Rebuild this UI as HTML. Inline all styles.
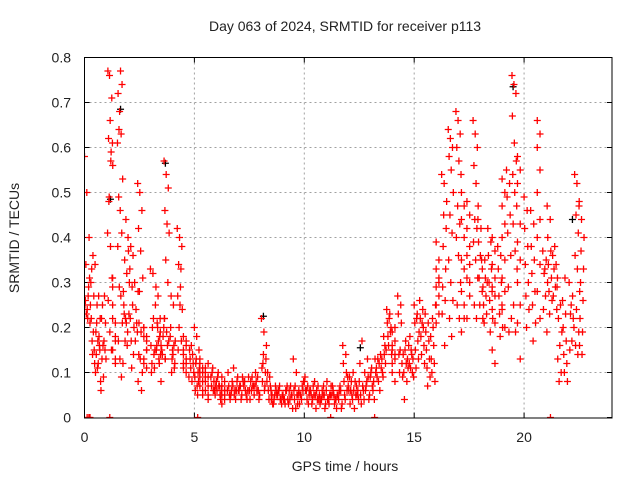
<!DOCTYPE html>
<html><head><meta charset="utf-8"><style>
html,body{margin:0;padding:0;background:#fff;}
svg{display:block;font-family:"Liberation Sans",sans-serif;}
</style></head><body>
<svg id="chart" width="640" height="480" viewBox="0 0 640 480">
<rect width="640" height="480" fill="#fff"/>
<text x="345" y="31" font-size="14" text-anchor="middle" fill="#222">Day 063 of 2024, SRMTID for receiver p113</text>
<text transform="translate(19,238) rotate(-90)" font-size="14" text-anchor="middle" fill="#222">SRMTID / TECUs</text>
<text x="345" y="471" font-size="14" text-anchor="middle" fill="#222">GPS time / hours</text>
<g id="grid"></g>
<g id="ticks"></g>
<defs><clipPath id="clip"><rect x="84.5" y="57" width="527.5" height="361"/></clipPath></defs>
<g id="marks" clip-path="url(#clip)"></g>
<rect x="84.5" y="57.5" width="527.5" height="360.5" fill="none" stroke="#000" stroke-width="1"/>
</svg>
<script>
const xTicks=[0,5,10,15,20];
const yTicks=[0,0.1,0.2,0.3,0.4,0.5,0.6,0.7,0.8];
const yTickLabels=["0","0.1","0.2","0.3","0.4","0.5","0.6","0.7","0.8"];
const segStart=[0,0.25,0.5,0.75,1.05,1.28,1.5,1.75,2.0,2.25,2.42,2.7,3.0,3.25,3.45,3.62,3.9,4.22,4.5,4.75,5.0,5.25,5.5,5.75,6.0,6.25,6.5,6.75,7.0,7.25,7.5,7.75,8.05,8.3,8.5,8.75,9.0,9.25,9.5,9.75,10.0,10.25,10.5,10.75,11.0,11.25,11.5,11.75,12.0,12.25,12.5,12.75,13.0,13.25,13.5,13.75,14.0,14.25,14.5,14.75,15.0,15.25,15.5,15.75,16.0,16.55,16.25,16.9,17.15,17.4,17.68,17.9,18.1,18.35,18.55,18.8,19.45,19.2,19.7,19.0,20.0,20.6,20.3,20.85,21.05,21.3,21.5,21.75,22.3,22.05,22.5];
const segValues=[
[0.58,0.50,0.40,0.34,0.27,0.25,0.24,0.31,0.23,0.29,0.26,0.22],
[0.21,0.17,0.15,0.30,0.36,0.34,0.33,0.27,0.25,0.14,0.12,0.22,0.19],
[0.10,0.11,0.16,0.19,0.17,0.15,0.14,0.12,0.22,0.21,0.27,0.08,0.25,0.18],
[0.06,0.09,0.13,0.16,0.21,0.25,0.15,0.13,0.27,0.22,0.17],
[0.41,0.49,0.57,0.61,0.62,0.66,0.71,0.77,0.76,0.59,0.56,0.48,0.38,0.31,0.26,0.19,0.15],
[0.31,0.17,0.25,0.18,0.22,0.13,0.15,0.21,0.29,0.12],
[0.61,0.64,0.77,0.74,0.72,0.68,0.63,0.53,0.49,0.46,0.41,0.38,0.29,0.27,0.21,0.17,0.13,0.09],
[0.12,0.17,0.16,0.25,0.44,0.40,0.35,0.32,0.28,0.22,0.19,0.23,0.21],
[0.37,0.38,0.36,0.33,0.29,0.23,0.17,0.14,0.22,0.25,0.30,0.11],
[0.20,0.19,0.17,0.14,0.21,0.30,0.28,0.24],
[0.52,0.50,0.46,0.42,0.37,0.31,0.28,0.06,0.08,0.13,0.10,0.21,0.19],
[0.18,0.15,0.20,0.17,0.13,0.15,0.12,0.18,0.20,0.11],
[0.33,0.32,0.25,0.20,0.15,0.12,0.11,0.10,0.14,0.16,0.22],
[0.29,0.27,0.22,0.16,0.13,0.08,0.20,0.18,0.15,0.17,0.14,0.21,0.12],
[0.19,0.20,0.15,0.13,0.18,0.16,0.22,0.14],
[0.57,0.54,0.51,0.46,0.43,0.41,0.35,0.30,0.22,0.19,0.17,0.13,0.16],
[0.18,0.15,0.12,0.10,0.16,0.20,0.14,0.17,0.13,0.11,0.27,0.25],
[0.42,0.40,0.38,0.34,0.33,0.27,0.25,0.24,0.20,0.17,0.15,0.29],
[0.18,0.16,0.14,0.12,0.11,0.13,0.12,0.10,0.15,0.17],
[0.09,0.08,0.15,0.14,0.13,0.12,0.11,0.10,0.16],
[0.20,0.18,0.15,0.12,0.10,0.09,0.07,0.11,0.13,0.08,0.06,0.05],
[0.12,0.10,0.09,0.08,0.07,0.11,0.13,0.06,0.10,0.05],
[0.10,0.09,0.08,0.07,0.06,0.12,0.11,0.05,0.09,0.04],
[0.09,0.08,0.07,0.06,0.10,0.05,0.11,0.07,0.06],
[0.08,0.07,0.06,0.05,0.09,0.04,0.10,0.06,0.07],
[0.07,0.06,0.05,0.08,0.09,0.04,0.03,0.06,0.07,0.05],
[0.06,0.05,0.07,0.08,0.04,0.10,0.06,0.05],
[0.07,0.06,0.05,0.09,0.04,0.11,0.08,0.06],
[0.06,0.05,0.07,0.08,0.04,0.06,0.09,0.07],
[0.07,0.06,0.05,0.08,0.09,0.04,0.06],
[0.06,0.07,0.08,0.05,0.09,0.04,0.07,0.06],
[0.07,0.06,0.08,0.05,0.09,0.10,0.04,0.06],
[0.22,0.19,0.16,0.14,0.13,0.12,0.10,0.08,0.07,0.11,0.06],
[0.08,0.07,0.06,0.05,0.09,0.10,0.06,0.04],
[0.04,0.05,0.03,0.06,0.04,0.05,0.07,0.03],
[0.05,0.04,0.06,0.03,0.07,0.05,0.04,0.06],
[0.05,0.06,0.04,0.07,0.03,0.05,0.06,0.04],
[0.04,0.05,0.06,0.02,0.07,0.03,0.05,0.04],
[0.13,0.10,0.06,0.05,0.04,0.03,0.07,0.05,0.02],
[0.06,0.07,0.05,0.08,0.04,0.03,0.06,0.05],
[0.08,0.07,0.06,0.05,0.04,0.09,0.03,0.06],
[0.06,0.07,0.05,0.08,0.04,0.06,0.05,0.03],
[0.05,0.04,0.06,0.03,0.07,0.02,0.05,0.04],
[0.04,0.05,0.06,0.03,0.07,0.04,0.02,0.05],
[0.06,0.05,0.04,0.07,0.03,0.08,0.05,0.04],
[0.05,0.04,0.06,0.02,0.03,0.07,0.04,0.05],
[0.05,0.06,0.04,0.03,0.07,0.05,0.02,0.06],
[0.16,0.14,0.12,0.10,0.08,0.06,0.05,0.09,0.04],
[0.07,0.08,0.06,0.05,0.09,0.04,0.03,0.10,0.06],
[0.06,0.05,0.08,0.04,0.07,0.02,0.06,0.05],
[0.08,0.07,0.05,0.04,0.17,0.12,0.06,0.03],
[0.10,0.09,0.07,0.05,0.13,0.06,0.04,0.08],
[0.09,0.08,0.11,0.13,0.06,0.10,0.04,0.07],
[0.10,0.12,0.09,0.14,0.08,0.11,0.06,0.13],
[0.11,0.14,0.13,0.16,0.10,0.12,0.09,0.15,0.18],
[0.24,0.23,0.21,0.19,0.18,0.20,0.16,0.14,0.22],
[0.19,0.17,0.15,0.13,0.12,0.20,0.10,0.08,0.16,0.14],
[0.27,0.25,0.23,0.21,0.14,0.12,0.10,0.09,0.15],
[0.14,0.12,0.10,0.08,0.04,0.13,0.15,0.11,0.17],
[0.16,0.14,0.12,0.10,0.18,0.13,0.11,0.09,0.15],
[0.25,0.23,0.21,0.17,0.15,0.13,0.11,0.19,0.22],
[0.26,0.24,0.22,0.20,0.18,0.16,0.14,0.12,0.21],
[0.23,0.21,0.19,0.17,0.15,0.13,0.11,0.09,0.07],
[0.18,0.16,0.13,0.12,0.10,0.08,0.22,0.25,0.20],
[0.39,0.35,0.33,0.31,0.29,0.27,0.25,0.23,0.21,0.30],
[0.64,0.62,0.60,0.58,0.55,0.50,0.45,0.41,0.35,0.30,0.26,0.22,0.18],
[0.54,0.52,0.48,0.45,0.42,0.38,0.33,0.29,0.26,0.23,0.16],
[0.68,0.66,0.63,0.60,0.57,0.54,0.47,0.43,0.40,0.36,0.30,0.25,0.22],
[0.50,0.47,0.44,0.40,0.35,0.33,0.28,0.25,0.19,0.22],
[0.48,0.45,0.42,0.38,0.36,0.34,0.31,0.27,0.22,0.30],
[0.66,0.63,0.60,0.56,0.52,0.47,0.44,0.42,0.39,0.35,0.31,0.25,0.22],
[0.44,0.42,0.39,0.35,0.31,0.28,0.25,0.22,0.36],
[0.33,0.31,0.29,0.27,0.25,0.23,0.21,0.30,0.35],
[0.42,0.39,0.36,0.33,0.30,0.28,0.26,0.22,0.19],
[0.40,0.37,0.34,0.31,0.29,0.27,0.24,0.21,0.15,0.12],
[0.38,0.36,0.33,0.30,0.27,0.25,0.23,0.20,0.18],
[0.76,0.74,0.72,0.67,0.61,0.57,0.54,0.50,0.47,0.43,0.37,0.33,0.25,0.19],
[0.55,0.52,0.49,0.45,0.41,0.36,0.29,0.22,0.19],
[0.58,0.55,0.52,0.43,0.39,0.35,0.30,0.25,0.21,0.13],
[0.53,0.50,0.47,0.43,0.40,0.35,0.31,0.28,0.24,0.20],
[0.49,0.46,0.42,0.38,0.34,0.30,0.27,0.24,0.20],
[0.66,0.63,0.60,0.55,0.50,0.44,0.40,0.34,0.28,0.22],
[0.46,0.43,0.38,0.35,0.32,0.28,0.25,0.21,0.17],
[0.37,0.35,0.32,0.30,0.27,0.24,0.19,0.33],
[0.47,0.44,0.40,0.37,0.34,0.31,0.28,0.26,0.23],
[0.36,0.34,0.33,0.31,0.29,0.27,0.24,0.38],
[0.29,0.25,0.22,0.19,0.16,0.13,0.10,0.08],
[0.26,0.23,0.20,0.17,0.14,0.12,0.10,0.08,0.31],
[0.54,0.52,0.48,0.45,0.41,0.36,0.33,0.28,0.24,0.19,0.16,0.14],
[0.30,0.27,0.23,0.20,0.17,0.15,0.22,0.25],
[0.47,0.44,0.40,0.37,0.33,0.30,0.26,0.22,0.19,0.16,0.14]
];
const zeroTimes=[0.12,0.2,0.25,1.15,5.15,11.2,13.2,21.2];
const blackTimes=[1.64,3.68,8.14,19.5,12.55,1.18,22.2];
const blackValues=[0.685,0.565,0.225,0.735,0.155,0.485,0.44];

const X0=84.5,X1=612,Y0=417.5,Y1=57.5;
const xScale=t=>X0+t/24*(X1-X0);
const yScale=v=>Y0-v/0.8*(Y0-Y1);
const NS="http://www.w3.org/2000/svg";
const grid=document.getElementById('grid'),ticks=document.getElementById('ticks'),marks=document.getElementById('marks');

xTicks.forEach(t=>{
  const x=xScale(t);
  if(t>0){const g=document.createElementNS(NS,'line');
  
  
  g.setAttribute('x1',x);g.setAttribute('x2',x);g.setAttribute('y1',Y1);g.setAttribute('y2',Y0);
  g.setAttribute('stroke','#a0a0a0');g.setAttribute('stroke-dasharray','2,3');grid.appendChild(g);}
  const tk=document.createElementNS(NS,'path');
  
  
  tk.setAttribute('d',`M${x},${Y0}v-5M${x},${Y1}v5`);tk.setAttribute('stroke','#000');ticks.appendChild(tk);
  const tx=document.createElementNS(NS,'text');
  
  
  tx.setAttribute('x',x);tx.setAttribute('y',442);tx.setAttribute('font-size','14');tx.setAttribute('text-anchor','middle');tx.setAttribute('fill','#222');
  tx.textContent=t;ticks.appendChild(tx);
});
yTicks.forEach((v,i)=>{
  const y=yScale(v);
  if(v>0&&v<0.8){const g=document.createElementNS(NS,'line');
  
  
  g.setAttribute('x1',X0);g.setAttribute('x2',X1);g.setAttribute('y1',y);g.setAttribute('y2',y);
  g.setAttribute('stroke','#a0a0a0');g.setAttribute('stroke-dasharray','2,3');grid.appendChild(g);}
  const tk=document.createElementNS(NS,'path');
  
  
  tk.setAttribute('d',`M${X0},${y}h5M${X1},${y}h-5`);tk.setAttribute('stroke','#000');ticks.appendChild(tk);
  const tx=document.createElementNS(NS,'text');
  
  
  tx.setAttribute('x',71);tx.setAttribute('y',y+5);tx.setAttribute('font-size','14');tx.setAttribute('text-anchor','end');tx.setAttribute('fill','#222');
  tx.textContent=yTickLabels[i];ticks.appendChild(tx);
});
function plus(t,v,color,name){
  const x=xScale(t),y=yScale(v);
  const p=document.createElementNS(NS,'path');
  
  
  p.setAttribute('d',`M${x-3.5},${y}h7M${x},${y-3.5}v7`);
  p.setAttribute('stroke',color);p.setAttribute('stroke-width','1.3');
  marks.appendChild(p);
}
blackTimes.forEach((t,i)=>plus(t,blackValues[i],'#000','black-point'));
segValues.forEach((vals,s)=>{
  const n=vals.length;
  vals.forEach((v,i)=>plus(segStart[s]+((i*5)%n)*0.25/n,v,'#ff0000','red-point'));
});
zeroTimes.forEach(t=>plus(t,0,'#ff0000','zero-point'));
</script>
</body></html>
